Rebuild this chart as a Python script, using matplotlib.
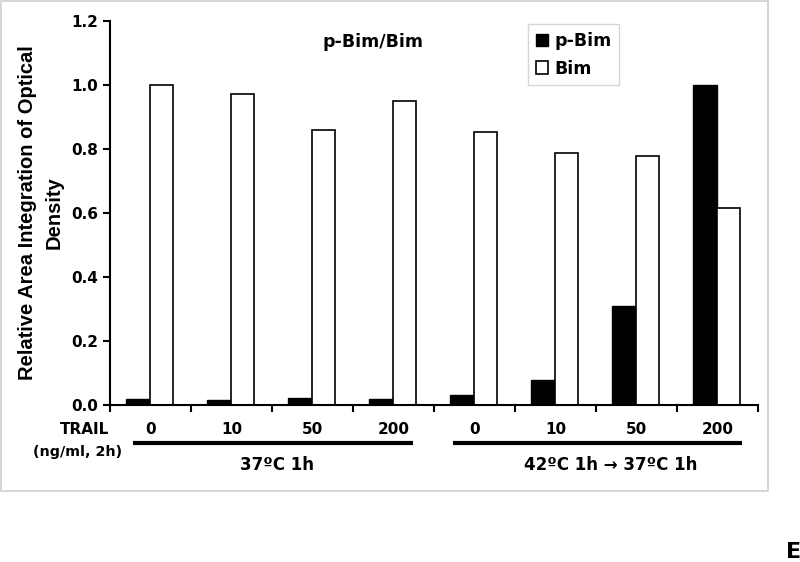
# p-Bim / Bim grouped bars

import numpy as np
import matplotlib.pyplot as plt
from matplotlib.patches import Rectangle
import matplotlib.transforms as mtrans

plt.rcParams['font.family'] = ['DejaVu Sans']
plt.rcParams['font.weight'] = 'bold'

# Data
doses = ['0', '10', '50', '200', '0', '10', '50', '200']
pbim = [0.018, 0.014, 0.022, 0.018, 0.030, 0.079, 0.310, 1.000]
bim = [1.000, 0.972, 0.858, 0.949, 0.851, 0.787, 0.776, 0.614]
groups = ['37ºC 1h', '42ºC 1h → 37ºC 1h']

fig = plt.figure(figsize=(8, 5.62), dpi=100)
ax = fig.add_axes([0.1375, 0.2794, 0.81, 0.6838])

x = np.arange(len(doses))
w = 0.29
ax.bar(x + 0.345, pbim, w, color='black', edgecolor='black', linewidth=1.0, label='p-Bim')
ax.bar(x + 0.635, bim, w, color='white', edgecolor='black', linewidth=1.2, label='Bim')

ax.set_xlim(0, len(doses))
ax.set_ylim(0, 1.2)
yt = np.arange(0, 1.21, 0.2)
ax.set_yticks(yt)
ax.set_yticklabels(['%.1f' % v for v in yt], fontsize=11, fontweight='bold')
ax.set_xticks(np.arange(0, len(doses) + 1))
ax.set_xticklabels([])
ax.tick_params(axis='both', which='major', direction='out', length=5, width=1.5)
ax.spines['top'].set_visible(False)
ax.spines['right'].set_visible(False)
ax.spines['left'].set_linewidth(1.5)
ax.spines['bottom'].set_linewidth(1.5)

# title inside the plot
ax.text(3.25, 1.133, 'p-Bim/Bim', ha='center', va='center', fontsize=12.5, fontweight='bold')

# legend
leg = ax.legend(loc='upper left', bbox_to_anchor=(0.66, 0.957), bbox_transform=fig.transFigure,
                fontsize=12.5, frameon=True, fancybox=False, handlelength=0.7, handleheight=0.7,
                handletextpad=0.35, borderpad=0.45, labelspacing=0.55, borderaxespad=0)
leg.get_frame().set_edgecolor('#cccccc')
leg.get_frame().set_linewidth(1.0)

# lower annotations
tr = mtrans.blended_transform_factory(ax.transData, ax.transAxes)
for i, d in enumerate(doses):
    ax.text(i + 0.5, -0.065, d, transform=tr, ha='center', va='center', fontsize=11, fontweight='bold')
ax.text(-0.31, -0.065, 'TRAIL', transform=tr, ha='center', va='center', fontsize=11, fontweight='bold')
ax.text(-0.395, -0.122, '(ng/ml, 2h)', transform=tr, ha='center', va='center', fontsize=10.3, fontweight='bold')
ax.plot([0.28, 3.74], [-0.0997, -0.0997], transform=tr, color='black', lw=3, clip_on=False, solid_capstyle='butt')
ax.plot([4.23, 7.80], [-0.0997, -0.0997], transform=tr, color='black', lw=3, clip_on=False, solid_capstyle='butt')
ax.text(2.06, -0.156, groups[0], transform=tr, ha='center', va='center', fontsize=12, fontweight='bold')
ax.text(6.18, -0.156, groups[1], transform=tr, ha='center', va='center', fontsize=12, fontweight='bold')

# y label
fig.text(0.051, 1 - 213 / 562, 'Relative Area Integration of Optical\nDensity', rotation=90,
         ha='center', va='center', multialignment='center', fontsize=14.5, fontweight='bold',
         family='Liberation Sans', linespacing=1.5)

# outer frame
fig.add_artist(Rectangle((0.001, 1 - 491 / 562), 767 / 800, 491 / 562 - 0.002, transform=fig.transFigure,
                         fill=False, edgecolor='#d0d0d0', lw=1.2))
fig.text(0.982, 0.0, 'E', ha='left', va='bottom', fontsize=16, fontweight='bold')

fig.savefig('out.png', dpi=100)
